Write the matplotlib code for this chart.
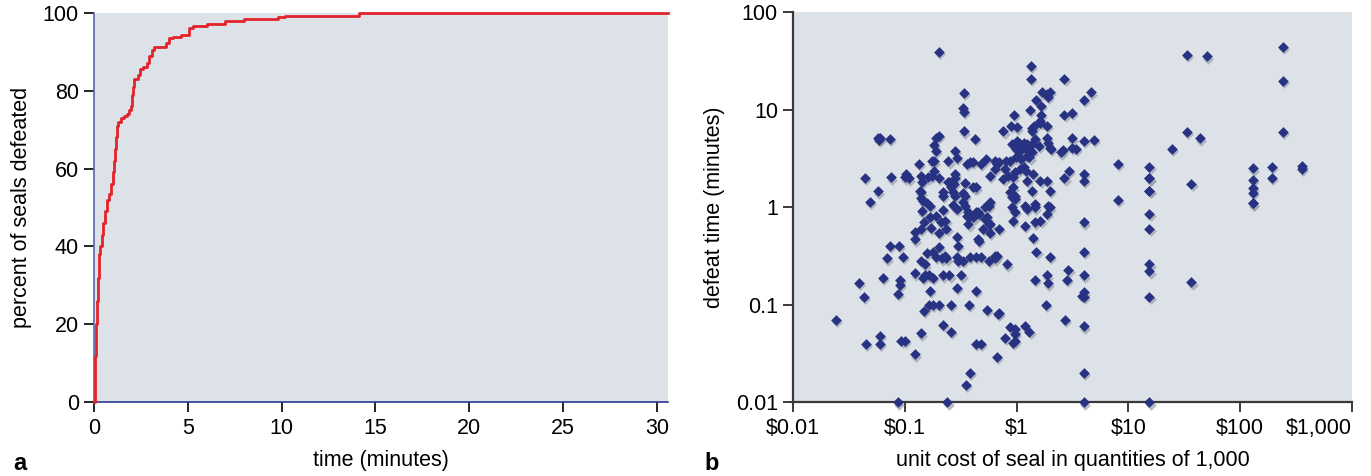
import matplotlib
matplotlib.use("Agg")
import matplotlib.pyplot as plt
import matplotlib.transforms as mtransforms
import numpy as np

plt.rcParams['font.family'] = ['Liberation Sans', 'DejaVu Sans']

# panel a: cumulative share of seals defeated vs time
time_min = [0, 0.03, 0.06, 0.1, 0.15, 0.2, 0.25, 0.3, 0.4, 0.5, 0.6, 0.7, 0.8, 0.9,
            1.0, 1.05, 1.1, 1.15, 1.22, 1.3, 1.45, 1.6, 1.75, 1.85, 1.95, 2.0, 2.05,
            2.15, 2.35, 2.45, 2.6, 2.8, 2.95, 3.1, 3.2, 3.85, 4.0, 4.2, 4.65, 5.05,
            5.3, 6.0, 7.0, 8.0, 9.8, 10.2, 14.1, 30.6]
pct_defeated = [0, 5, 12, 20, 26, 32, 38, 40, 43, 46, 49, 52, 53.5, 56,
                59, 62, 65, 68, 71, 72, 73, 73.5, 74, 75, 76, 79, 81,
                83, 84, 85.5, 86, 87, 89, 90.5, 91.3, 92.3, 93.4, 93.8, 94.2, 96,
                96.7, 97.2, 97.8, 98.5, 98.8, 99.2, 99.8, 99.8]

# panel b: unit cost ($, qty 1,000) vs defeat time (minutes)
unit_cost = [
    0.2, 0.34, 0.33, 0.34, 0.34, 0.42, 0.057, 0.06, 0.058, 0.073, 0.044, 0.075, 0.057, 0.049,
    0.102, 0.1, 0.109, 0.133, 0.174, 0.18, 0.19, 0.2, 0.18, 0.19, 0.28, 0.245, 0.29, 0.36,
    0.38, 0.405, 0.43, 0.14, 0.143, 0.16, 0.174, 0.18, 0.2, 0.28, 0.25, 0.26, 0.28, 0.275,
    0.136, 0.138, 0.146, 0.157, 0.167, 0.22, 0.33, 0.345, 0.33, 0.345, 0.37, 0.385, 0.415,
    0.27, 0.29, 0.22, 0.23, 0.21, 0.143, 0.167, 0.19, 0.148, 0.14, 0.122, 0.122, 0.17, 0.2,
    0.235, 0.29, 0.3, 0.37, 0.45, 0.073, 0.088, 0.095, 0.069, 0.063, 0.09, 0.09, 0.086,
    0.039, 0.043, 0.024, 0.045, 0.06, 0.06, 0.093, 0.1, 0.122, 0.139, 0.087, 0.24, 0.22,
    0.26, 0.148, 0.165, 0.178, 0.2, 0.26, 0.375, 0.167, 0.29, 0.122, 0.145, 0.15, 0.165,
    0.178, 0.22, 0.25, 0.32, 0.14, 0.15, 0.157, 0.177, 0.19, 0.2, 0.215, 0.23, 0.235, 0.29,
    0.3, 0.33, 0.38, 0.43, 0.35, 0.38, 0.43, 0.43, 0.45,
    1.33, 1.33, 2.67, 1.67, 1.86, 2.0, 1.9, 1.49, 1.64, 4.6, 4.0, 1.31, 0.94, 1.64, 2.67,
    3.1, 0.89, 1.0, 0.76, 1.38, 1.44, 1.63, 1.86, 1.36, 1.86, 1.9, 2.0, 2.04, 3.1, 4.0, 4.9,
    3.1, 3.4, 2.5, 2.6, 1.63,
    0.9, 1.0, 1.06, 1.16, 1.23, 1.3, 1.38, 1.47, 1.57, 0.98, 1.06, 1.2, 1.28, 1.38, 1.23,
    1.3, 1.1, 0.98, 0.87, 0.64, 0.7, 0.8,
    0.79, 0.84, 0.76, 0.93, 0.97, 1.06, 1.15, 1.2, 1.4, 1.63, 1.86, 2.0, 1.23, 1.38, 0.93,
    0.87, 0.97, 2.67, 2.95, 3.97, 3.97, 0.64, 0.66,
    0.9, 0.97, 0.9, 0.97, 0.93, 1.18, 1.23, 1.45, 1.45, 1.9, 2.0, 1.86, 1.45, 1.63, 1.18,
    1.4, 1.5, 2.0, 0.69, 0.66, 0.64, 0.82, 1.45, 1.88, 1.9, 2.9, 2.8,
    4.0, 4.0, 4.0, 4.0, 3.8, 4.0, 4.0, 4.0, 4.0, 1.84, 2.7, 0.69,
    0.87, 0.97, 0.97, 0.97, 0.93, 1.18, 1.3, 0.78, 0.66,
    0.58, 0.46, 0.5, 0.56, 0.52, 0.48, 0.56, 0.64, 0.54, 0.68, 0.48,
    0.28, 0.36, 0.41, 0.43, 0.46, 0.52, 0.56, 0.58, 0.54, 0.58,
    0.48, 0.53, 0.58, 0.28, 0.245, 0.345, 0.41, 0.14, 0.22, 0.27,
    240, 240, 240, 33.3, 50.8, 33.3, 43.4, 24.4, 36.6, 36.6, 8.1, 8.1,
    15.4, 15.4, 15.4, 15.4, 15.4, 15.4, 15.4, 15.4, 15.4, 15.4, 15.4,
    131, 131, 131, 131, 131, 131, 194, 194, 360, 360,
]
defeat_time = [
    39.5, 14.8, 10.4, 9.5, 6.0, 5.0, 5.1, 5.1, 4.9, 5.0, 2.0, 2.03, 1.46, 1.14,
    2.2, 2.03, 1.98, 2.8, 2.96, 2.96, 5.2, 5.4, 4.4, 3.8, 3.8, 2.96, 3.2, 2.78,
    2.94, 2.94, 1.6, 2.1, 1.83, 2.03, 2.1, 2.37, 2.0, 2.2, 1.83, 1.6, 1.3, 1.73,
    1.46, 1.25, 1.15, 1.1, 1.04, 1.3, 1.4, 1.3, 1.13, 1.04, 0.89, 0.82, 0.81,
    1.05, 0.96, 0.94, 0.73, 0.70, 0.91, 0.79, 0.81, 0.71, 0.6, 0.56, 0.47, 0.61, 0.55,
    0.6, 0.5, 0.4, 0.67, 0.89, 0.4, 0.4, 0.31, 0.3, 0.19, 0.18, 0.16, 0.13,
    0.167, 0.12, 0.07, 0.04, 0.048, 0.04, 0.043, 0.043, 0.031, 0.051, 0.01, 0.01, 0.062,
    0.053, 0.086, 0.1, 0.1, 0.1, 0.1, 0.1, 0.14, 0.15, 0.21, 0.19, 0.2, 0.2,
    0.19, 0.2, 0.2, 0.2, 0.28, 0.26, 0.34, 0.35, 0.31, 0.39, 0.3, 0.32, 0.3, 0.31,
    0.28, 0.28, 0.31, 0.31, 0.015, 0.02, 0.04, 0.14, 0.47,
    28.3, 20.7, 20.7, 15.1, 14.5, 15.4, 13.5, 12.7, 10.9, 15.1, 12.7, 9.9, 8.9, 8.9, 8.9,
    9.3, 6.9, 6.6, 6.0, 6.5, 6.9, 7.3, 6.9, 6.1, 5.2, 4.6, 4.1, 4.0, 5.1, 4.8, 4.9,
    4.1, 3.96, 3.66, 3.9, 7.7,
    4.45, 4.8, 4.45, 4.6, 4.45, 4.3, 4.45, 5.0, 4.3, 3.97, 3.8, 3.97, 3.8, 3.67, 3.38,
    3.25, 3.13, 3.25, 3.0, 3.0, 2.9, 3.0,
    2.47, 2.1, 1.95, 2.03, 2.28, 2.47, 2.57, 2.38, 2.2, 1.87, 1.87, 1.48, 1.87, 1.48, 1.6,
    1.42, 1.3, 1.98, 2.37, 2.2, 1.87, 2.47, 2.78,
    1.27, 1.22, 1.0, 0.89, 0.73, 1.04, 0.96, 1.08, 1.0, 1.04, 1.0, 0.85, 0.7, 0.73, 0.65,
    0.49, 0.35, 0.31, 0.6, 0.32, 0.3, 0.26, 0.18, 0.2, 0.166, 0.23, 0.18,
    0.7, 0.35, 0.2, 0.134, 0.124, 0.12, 0.06, 0.02, 0.01, 0.1, 0.07, 0.082,
    0.059, 0.056, 0.05, 0.043, 0.041, 0.061, 0.053, 0.046, 0.029,
    0.55, 0.45, 0.6, 0.67, 0.76, 0.31, 0.28, 0.32, 0.089, 0.08, 0.04,
    1.0, 0.82, 0.79, 0.89, 0.85, 1.0, 1.04, 1.13, 0.79, 0.67,
    2.78, 3.13, 2.1, 2.0, 1.8, 1.77, 1.6, 1.42, 1.42, 1.42,
    44.4, 19.9, 5.97, 36.7, 35.3, 5.97, 5.1, 4.0, 1.73, 0.17, 2.78, 1.2,
    2.6, 1.98, 1.98, 1.48, 1.48, 0.85, 0.6, 0.26, 0.22, 0.12, 0.01,
    2.51, 1.9, 1.57, 1.4, 1.1, 1.1, 2.6, 2.0, 2.67, 2.47,
]

cost_ticks = [0.01, 0.1, 1, 10, 100, 1000]
cost_labels = ['$0.01', '$0.1', '$1', '$10', '$100', '$1,000']
time_ticks = [0.01, 0.1, 1, 10, 100]
time_labels = ['0.01', '0.1', '1', '10', '100']

bg = '#dde1e8'
fs = 15.5

fig = plt.figure(figsize=(13.71, 4.76), dpi=100)

# ---- panel a
ax1 = fig.add_axes([0.0686, 0.1548, 0.4187, 0.8185])
ax1.set_facecolor(bg)
ax1.step(time_min, pct_defeated, where='post', color='#e2232a', lw=2.0, clip_on=False, zorder=3)
ax1.set_xlim(0, 30.6)
ax1.set_ylim(0, 100)
ax1.set_xticks([0, 5, 10, 15, 20, 25, 30])
ax1.set_yticks([0, 20, 40, 60, 80, 100])
for s in ['top', 'right']:
    ax1.spines[s].set_visible(False)
ax1.spines['left'].set_color('#5b63ab')
ax1.spines['bottom'].set_color('#2b3990')
ax1.spines['left'].set_linewidth(1.2)
ax1.spines['bottom'].set_linewidth(1.2)
ax1.tick_params(direction='out', length=7, width=1.2, color='black', labelsize=fs, pad=4)
ax1.set_ylabel('percent of seals defeated', fontsize=fs, labelpad=8)
ax1.set_xlabel('time (minutes)', fontsize=fs, labelpad=8)

# ---- panel b
ax2 = fig.add_axes([0.5786, 0.1548, 0.4075, 0.8193])
ax2.set_facecolor(bg)
ax2.set_xscale('log')
ax2.set_yscale('log')
ax2.set_xlim(0.01, 1000)
ax2.set_ylim(0.01, 100)
shadow = mtransforms.offset_copy(ax2.transData, fig=fig, x=0.8, y=-1.6, units='points')
ax2.scatter(unit_cost, defeat_time, marker='D', s=30, color='#9aa0ab', alpha=0.7,
            linewidths=0, transform=shadow, clip_on=False, zorder=2)
ax2.scatter(unit_cost, defeat_time, marker='D', s=30, color='#283282',
            linewidths=0, clip_on=False, zorder=3)
ax2.set_xticks(cost_ticks)
ax2.set_xticklabels(cost_labels)
ax2.set_yticks(time_ticks)
ax2.set_yticklabels(time_labels)
ax2.minorticks_off()
ax2.get_xticklabels()[-1].set_horizontalalignment('right')
for s in ['top', 'right']:
    ax2.spines[s].set_visible(False)
for s in ['left', 'bottom']:
    ax2.spines[s].set_color('#3a3a3a')
    ax2.spines[s].set_linewidth(1.6)
ax2.tick_params(direction='out', length=7, width=1.4, color='#3a3a3a', labelsize=fs, pad=4)
ax2.set_ylabel('defeat time (minutes)', fontsize=fs, labelpad=8)
ax2.set_xlabel('unit cost of seal in quantities of 1,000', fontsize=fs, labelpad=8)

fig.text(13 / 1371, 1 - 463 / 476, 'a', fontsize=17, fontweight='bold', va='center', ha='left')
fig.text(704 / 1371, 1 - 463 / 476, 'b', fontsize=17, fontweight='bold', va='center', ha='left')

fig.savefig('out.png', dpi=100)
